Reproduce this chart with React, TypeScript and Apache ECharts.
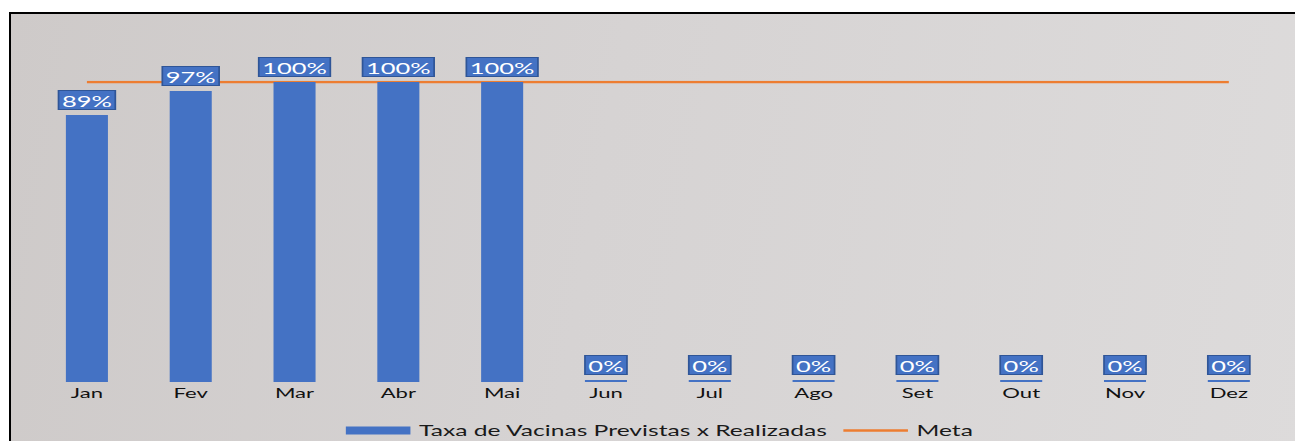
import React, { useEffect, useRef } from "react";
import * as echarts from "echarts";

// Monthly vaccination rate (planned vs. done) and the target line.
const months = ["Jan", "Fev", "Mar", "Abr", "Mai", "Jun", "Jul", "Ago", "Set", "Out", "Nov", "Dez"];
const taxaRealizada = [0.89, 0.97, 1, 1, 1, 0, 0, 0, 0, 0, 0, 0];
const meta = [1, 1, 1, 1, 1, 1, 1, 1, 1, 1, 1, 1];

const SERIES_TAXA = "Taxa de Vacinas Previstas x Realizadas";
const SERIES_META = "Meta";

// The chart is laid out on a narrower canvas and widened horizontally.
const PAGE_W = 1295;
const PAGE_H = 441;
const STRETCH = 1.7;
const CHART_W = Math.round(PAGE_W / STRETCH);

const FONT = "Lato, 'Open Sans', sans-serif";

export default function App() {
  const ref = useRef<HTMLDivElement>(null);

  useEffect(() => {
    if (!ref.current) return;
    const chart = echarts.init(ref.current, undefined, { renderer: "svg" });
    chart.setOption({
      animation: false,
      backgroundColor: "transparent",
      textStyle: { fontFamily: FONT },
      grid: { left: 20.6, right: CHART_W - 20.6 - 733, top: 82, bottom: 59, containLabel: false },
      legend: {
        bottom: -2,
        left: 198.5,
        itemWidth: 38,
        itemHeight: 8,
        itemGap: 9,
        symbolKeepAspect: true,
        textStyle: { fontFamily: FONT, fontSize: 14.5, color: "#1a1a1a" },
        data: [
          { name: SERIES_TAXA, icon: "rect" },
          { name: SERIES_META, icon: "path://M0,2.8H38V5.2H0Z" },
        ],
      },
      xAxis: {
        type: "category",
        data: months,
        boundaryGap: true,
        axisLine: { show: false },
        axisTick: { show: false },
        axisLabel: { color: "#111", fontSize: 13, margin: 4, fontFamily: FONT },
      },
      yAxis: {
        type: "value",
        min: 0,
        max: 1,
        show: false,
        splitLine: { show: false },
      },
      series: [
        {
          name: SERIES_TAXA,
          type: "bar",
          data: taxaRealizada,
          barWidth: "40.5%",
          barMinHeight: 2,
          itemStyle: { color: "#4472c4" },
          label: {
            show: true,
            position: "top",
            distance: 6,
            formatter: (p: any) => `${Math.round(p.value * 100)}%`,
            color: "#fff",
            fontFamily: FONT,
            fontSize: 15,
            lineHeight: 17,
            backgroundColor: "#4472c4",
            borderColor: "#2f5597",
            borderWidth: 1,
            padding: [1, 1.5, 0, 1.5],
          },
        },
        {
          name: SERIES_META,
          type: "line",
          data: meta,
          symbol: "none",
          z: 1,
          lineStyle: { color: "#ed7d31", width: 2.5 },
          itemStyle: { color: "#ed7d31" },
        },
      ],
    });
    return () => chart.dispose();
  }, []);

  return (
    <div
      style={{
        position: "absolute",
        left: 0,
        top: 0,
        width: PAGE_W,
        height: PAGE_H,
        overflow: "hidden",
        background: "#fff",
      }}
    >
      <div
        style={{
          position: "absolute",
          left: 9,
          top: 12,
          width: PAGE_W,
          height: PAGE_H,
          borderTop: "2px solid #000",
          borderLeft: "2px solid #000",
          background: "linear-gradient(100deg, #cecac9 0%, #d6d3d3 45%, #dddbdb 100%)",
        }}
      />
      <div
        ref={ref}
        style={{
          position: "absolute",
          left: 0,
          top: 0,
          width: CHART_W,
          height: PAGE_H,
          transform: `scaleX(${PAGE_W / CHART_W})`,
          transformOrigin: "0 0",
        }}
      />
    </div>
  );
}
